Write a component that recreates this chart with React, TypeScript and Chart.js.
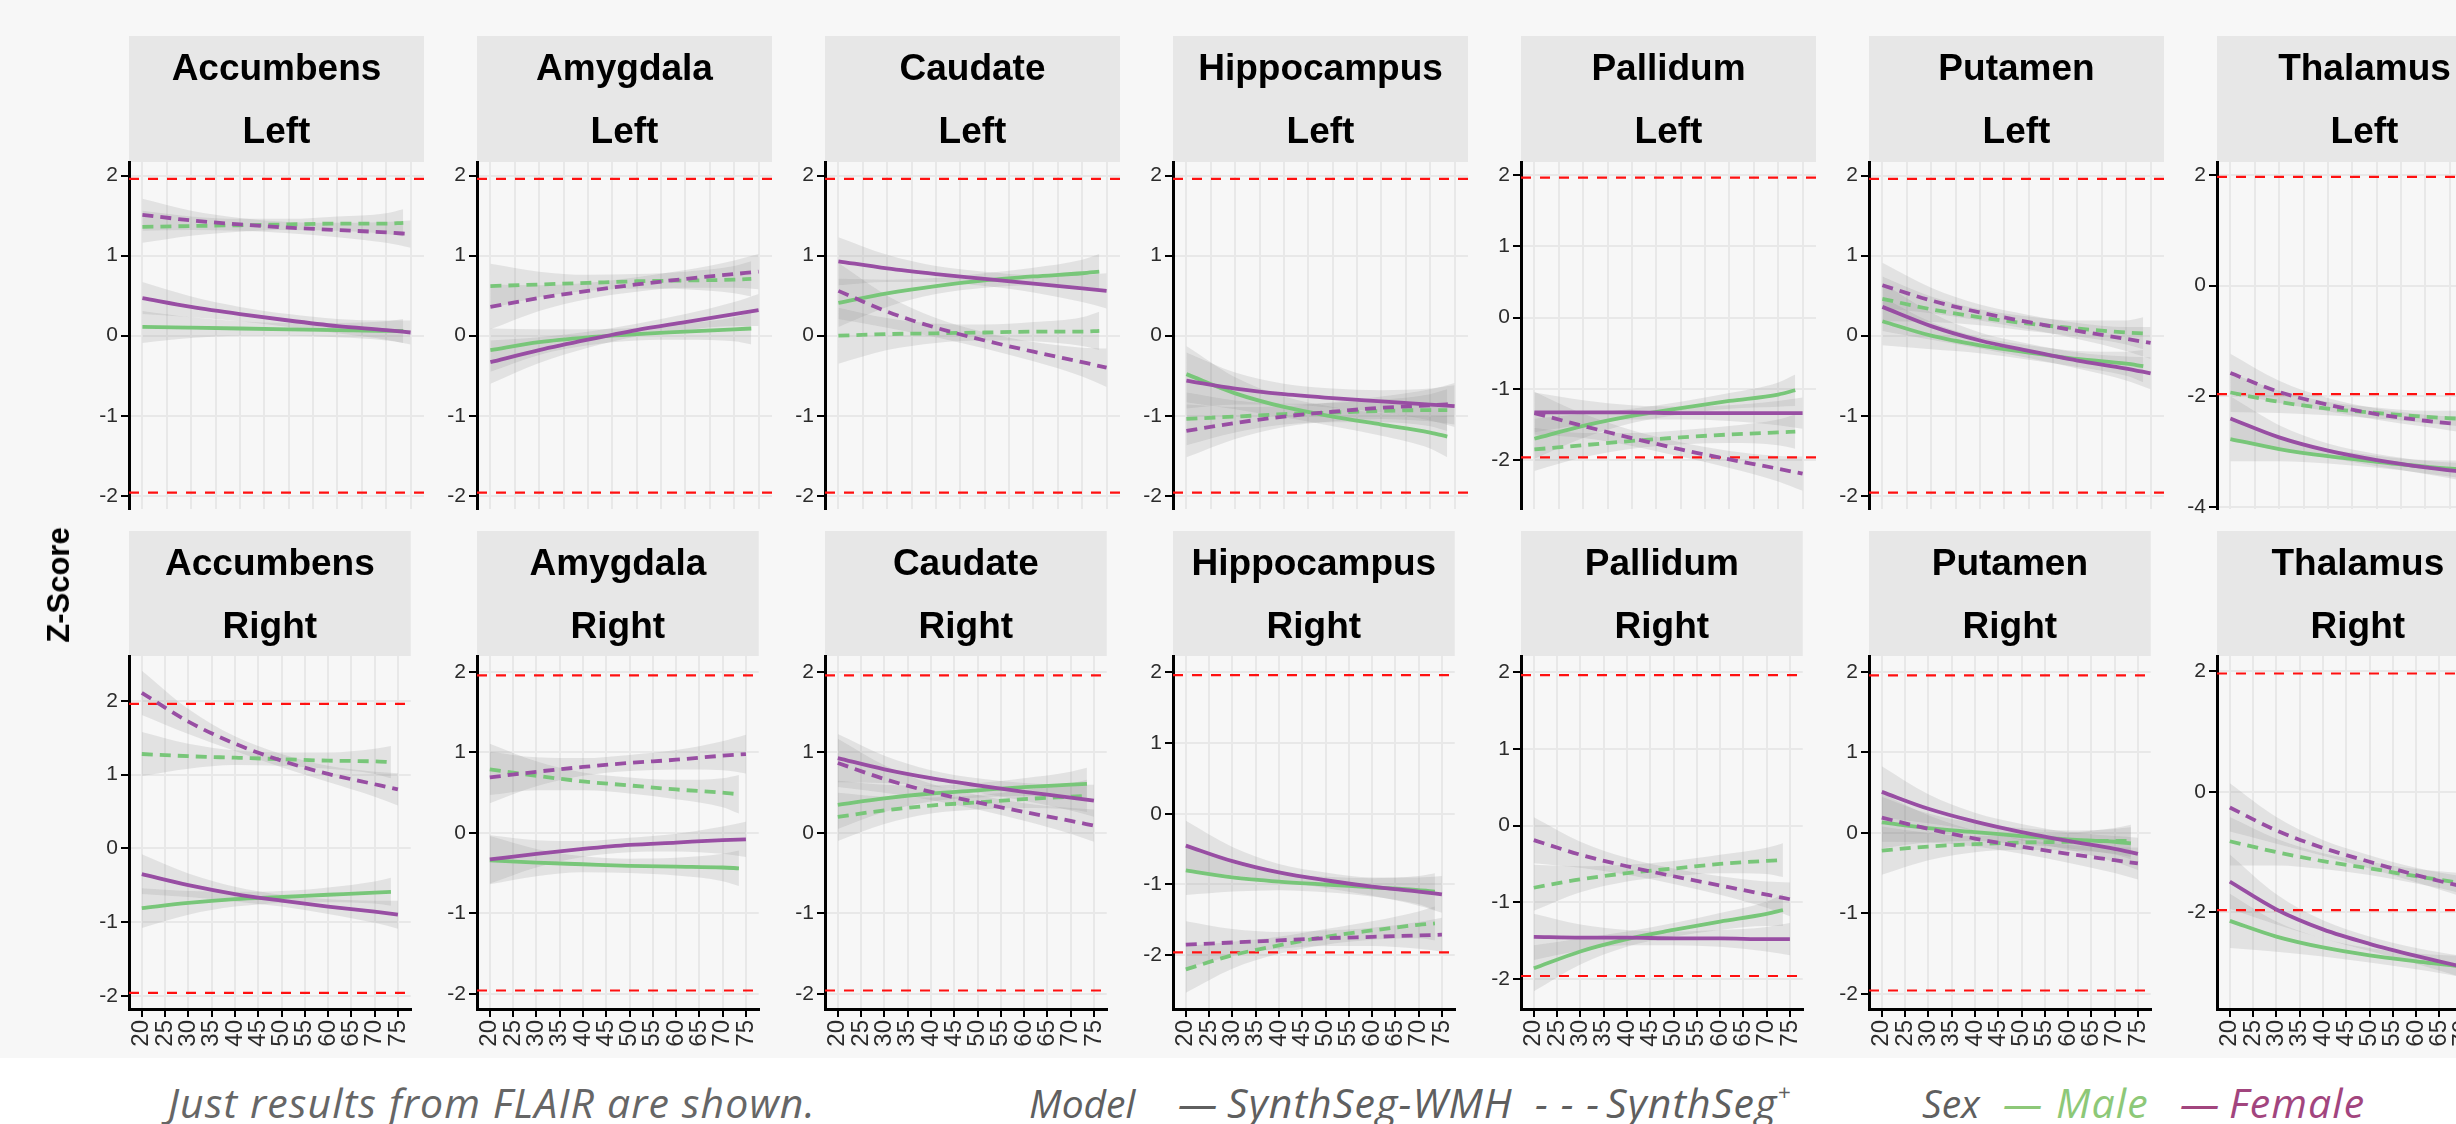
import React, { useEffect, useRef } from 'react';
import { Chart, registerables } from 'chart.js';

Chart.register(...registerables);

// ---------------- DATA ----------------
const REGIONS = ['Accumbens', 'Amygdala', 'Caudate', 'Hippocampus', 'Pallidum', 'Putamen', 'Thalamus'];
const SIDES = ['Left', 'Right'];
const AGE_TICKS = [20, 25, 30, 35, 40, 45, 50, 55, 60, 65, 70, 75];
const AGES_FEMALE = [20, 30, 40, 50, 60, 70, 75];
const AGES_MALE = [20, 30, 40, 50, 60, 70, 73.5];
const X_RANGE = [17.25, 77.75];
const REF_LINES = [-1.96, 1.96];

// panel order: Left row (0..6), Right row (7..13)
const WMH_FEMALE = [
  [0.47, 0.36, 0.27, 0.19, 0.12, 0.07, 0.04],
  [-0.33, -0.18, -0.05, 0.07, 0.17, 0.27, 0.32],
  [0.93, 0.84, 0.77, 0.71, 0.65, 0.59, 0.56],
  [-0.56, -0.66, -0.73, -0.78, -0.82, -0.86, -0.88],
  [-1.33, -1.33, -1.33, -1.34, -1.34, -1.34, -1.34],
  [0.36, 0.12, -0.06, -0.19, -0.31, -0.41, -0.47],
  [-2.4, -2.74, -2.98, -3.15, -3.28, -3.38, -3.42],
  [-0.35, -0.5, -0.62, -0.71, -0.79, -0.86, -0.9],
  [-0.33, -0.26, -0.2, -0.15, -0.12, -0.09, -0.08],
  [0.93, 0.79, 0.68, 0.59, 0.51, 0.44, 0.4],
  [-0.45, -0.67, -0.83, -0.94, -1.03, -1.1, -1.14],
  [-1.45, -1.46, -1.46, -1.47, -1.47, -1.48, -1.48],
  [0.51, 0.3, 0.14, 0.01, -0.1, -0.2, -0.26],
  [-1.49, -1.95, -2.28, -2.52, -2.72, -2.9, -2.98],
];
const WMH_MALE = [
  [0.11, 0.1, 0.09, 0.08, 0.07, 0.06, 0.06],
  [-0.18, -0.08, -0.02, 0.02, 0.05, 0.08, 0.09],
  [0.41, 0.53, 0.62, 0.69, 0.74, 0.78, 0.8],
  [-0.48, -0.72, -0.89, -1.01, -1.11, -1.21, -1.26],
  [-1.7, -1.52, -1.38, -1.27, -1.17, -1.08, -1.02],
  [0.18, 0.0, -0.12, -0.21, -0.29, -0.35, -0.38],
  [-2.77, -2.95, -3.08, -3.18, -3.27, -3.34, -3.37],
  [-0.81, -0.74, -0.69, -0.66, -0.63, -0.6, -0.59],
  [-0.34, -0.37, -0.39, -0.41, -0.42, -0.43, -0.44],
  [0.35, 0.43, 0.49, 0.53, 0.57, 0.6, 0.61],
  [-0.8, -0.9, -0.96, -1.0, -1.04, -1.08, -1.1],
  [-1.86, -1.64, -1.48, -1.36, -1.25, -1.15, -1.1],
  [0.13, 0.06, 0.01, -0.04, -0.08, -0.11, -0.13],
  [-2.14, -2.4, -2.58, -2.71, -2.81, -2.9, -2.95],
];
const SSP_FEMALE = [
  [1.51, 1.44, 1.39, 1.35, 1.32, 1.29, 1.27],
  [0.36, 0.47, 0.56, 0.64, 0.71, 0.77, 0.8],
  [0.56, 0.3, 0.1, -0.06, -0.2, -0.33, -0.4],
  [-1.19, -1.09, -1.01, -0.95, -0.9, -0.87, -0.85],
  [-1.34, -1.52, -1.69, -1.85, -1.99, -2.12, -2.19],
  [0.63, 0.44, 0.29, 0.17, 0.06, -0.04, -0.09],
  [-1.58, -1.92, -2.15, -2.32, -2.44, -2.53, -2.57],
  [2.11, 1.72, 1.42, 1.19, 1.01, 0.87, 0.8],
  [0.69, 0.76, 0.82, 0.87, 0.91, 0.96, 0.98],
  [0.87, 0.67, 0.51, 0.38, 0.26, 0.15, 0.09],
  [-1.85, -1.82, -1.79, -1.76, -1.74, -1.72, -1.71],
  [-0.19, -0.38, -0.53, -0.66, -0.78, -0.9, -0.96],
  [0.19, 0.05, -0.07, -0.17, -0.26, -0.34, -0.38],
  [-0.26, -0.64, -0.93, -1.16, -1.38, -1.57, -1.65],
];
const SSP_MALE = [
  [1.36, 1.37, 1.38, 1.39, 1.4, 1.4, 1.41],
  [0.62, 0.64, 0.66, 0.68, 0.69, 0.7, 0.71],
  [0.0, 0.02, 0.03, 0.04, 0.05, 0.05, 0.06],
  [-1.04, -1.01, -0.98, -0.96, -0.94, -0.93, -0.93],
  [-1.85, -1.79, -1.73, -1.68, -1.64, -1.61, -1.6],
  [0.46, 0.33, 0.23, 0.15, 0.09, 0.04, 0.03],
  [-1.93, -2.1, -2.22, -2.3, -2.37, -2.42, -2.45],
  [1.28, 1.25, 1.23, 1.21, 1.19, 1.18, 1.17],
  [0.79, 0.71, 0.64, 0.59, 0.54, 0.5, 0.48],
  [0.2, 0.28, 0.34, 0.38, 0.42, 0.45, 0.46],
  [-2.2, -2.0, -1.86, -1.74, -1.65, -1.57, -1.55],
  [-0.81, -0.7, -0.62, -0.56, -0.5, -0.46, -0.45],
  [-0.22, -0.17, -0.14, -0.12, -0.11, -0.1, -0.1],
  [-0.82, -1.0, -1.15, -1.27, -1.4, -1.52, -1.58],
];
// confidence band half-widths
const WMH_CI = [
  [0.2, 0.13, 0.09, 0.08, 0.09, 0.12, 0.15],
  [0.27, 0.16, 0.1, 0.08, 0.1, 0.15, 0.2],
  [0.3, 0.17, 0.1, 0.09, 0.11, 0.17, 0.22],
  [0.35, 0.2, 0.13, 0.12, 0.14, 0.2, 0.26],
  [0.28, 0.17, 0.1, 0.09, 0.11, 0.17, 0.22],
  [0.3, 0.17, 0.1, 0.09, 0.1, 0.15, 0.2],
  [0.4, 0.22, 0.13, 0.11, 0.12, 0.18, 0.24],
  [0.27, 0.16, 0.1, 0.08, 0.1, 0.15, 0.19],
  [0.3, 0.17, 0.1, 0.09, 0.11, 0.17, 0.22],
  [0.3, 0.17, 0.1, 0.09, 0.11, 0.16, 0.2],
  [0.35, 0.2, 0.12, 0.11, 0.13, 0.2, 0.26],
  [0.3, 0.17, 0.1, 0.09, 0.11, 0.16, 0.21],
  [0.32, 0.18, 0.11, 0.1, 0.11, 0.16, 0.2],
  [0.45, 0.25, 0.15, 0.12, 0.13, 0.18, 0.22],
];
const SSP_CI = [
  [0.2, 0.12, 0.08, 0.07, 0.09, 0.13, 0.17],
  [0.28, 0.16, 0.1, 0.09, 0.11, 0.17, 0.22],
  [0.35, 0.2, 0.12, 0.1, 0.12, 0.18, 0.24],
  [0.33, 0.2, 0.13, 0.12, 0.14, 0.2, 0.26],
  [0.3, 0.17, 0.11, 0.1, 0.12, 0.18, 0.24],
  [0.28, 0.16, 0.1, 0.09, 0.1, 0.15, 0.2],
  [0.35, 0.2, 0.12, 0.1, 0.11, 0.16, 0.22],
  [0.3, 0.17, 0.1, 0.09, 0.11, 0.17, 0.22],
  [0.32, 0.18, 0.11, 0.1, 0.12, 0.18, 0.24],
  [0.3, 0.17, 0.1, 0.09, 0.11, 0.16, 0.2],
  [0.33, 0.19, 0.12, 0.11, 0.13, 0.19, 0.24],
  [0.3, 0.17, 0.11, 0.1, 0.12, 0.17, 0.22],
  [0.3, 0.17, 0.1, 0.09, 0.11, 0.16, 0.2],
  [0.4, 0.22, 0.13, 0.11, 0.12, 0.17, 0.21],
];
const Y_RANGES = [
  [-2.17, 2.17], [-2.17, 2.17], [-2.17, 2.17], [-2.17, 2.17], [-2.69, 2.18], [-2.17, 2.17], [-4.04, 2.23],
  [-2.18, 2.61], [-2.19, 2.2], [-2.19, 2.2], [-2.76, 2.23], [-2.39, 2.21], [-2.19, 2.2], [-3.6, 2.25],
];
const TICKS_UNIT = [-2, -1, 0, 1, 2];
const TICKS_TWO_LEFT = [-4, -2, 0, 2];
const TICKS_TWO_RIGHT = [-2, 0, 2];
const Y_TICKS = [
  TICKS_UNIT, TICKS_UNIT, TICKS_UNIT, TICKS_UNIT, TICKS_UNIT, TICKS_UNIT, TICKS_TWO_LEFT,
  TICKS_UNIT, TICKS_UNIT, TICKS_UNIT, TICKS_UNIT, TICKS_UNIT, TICKS_UNIT, TICKS_TWO_RIGHT,
];

// ---------------- STYLE ----------------
const PURPLE = '#984ea3';
const GREEN = '#78c679';
const RED = '#ff1010';
const RIBBON = 'rgba(140,140,140,0.19)';
const GRID = '#e8e8e8';
const BG = '#f7f7f7';
const STRIP_BG = '#e7e7e7';
const TICK_COLOR = '#2b2b2b';
const FONT = '"Liberation Sans", Arial, Helvetica, sans-serif';
const DASH = [11, 7];

const AXIS_X0 = 129;
const COL_PITCH = 348;
const PANEL_W = 295;
const YAXIS_W = 60;
const PAD_R = 6;
const ROW_TOP = [36, 531];
const STRIP_H = [126, 125];
const PLOT_H = [351, 353];
const BOTTOM_EXTRA = [12, 70];
const FOOT_TOP = 1058;

const stripPlugin = {
  id: 'strip',
  beforeDraw(chart: any, _args: any, opts: any) {
    const { ctx, chartArea } = chart;
    ctx.save();
    ctx.fillStyle = STRIP_BG;
    ctx.fillRect(chartArea.left, 0, chartArea.right - chartArea.left, opts.height);
    ctx.fillStyle = '#000';
    ctx.font = `bold 37px ${FONT}`;
    ctx.textAlign = 'center';
    ctx.textBaseline = 'alphabetic';
    const cx = (chartArea.left + chartArea.right) / 2;
    ctx.fillText(opts.lines[0], cx, 44);
    ctx.fillText(opts.lines[1], cx, 107);
    ctx.restore();
  },
};

function Panel({ idx }: { idx: number }) {
  const ref = useRef<HTMLCanvasElement>(null);
  const row = idx < 7 ? 0 : 1;
  const col = idx % 7;
  const width = YAXIS_W + PANEL_W + PAD_R;
  const height = STRIP_H[row] + PLOT_H[row] + BOTTOM_EXTRA[row];

  useEffect(() => {
    if (!ref.current) return;
    const curves = [
      { vals: WMH_FEMALE[idx], ci: WMH_CI[idx], ages: AGES_FEMALE, color: PURPLE, dash: [] as number[] },
      { vals: SSP_FEMALE[idx], ci: SSP_CI[idx], ages: AGES_FEMALE, color: PURPLE, dash: DASH },
      { vals: WMH_MALE[idx], ci: WMH_CI[idx], ages: AGES_MALE, color: GREEN, dash: [] as number[] },
      { vals: SSP_MALE[idx], ci: SSP_CI[idx], ages: AGES_MALE, color: GREEN, dash: DASH },
    ];
    const datasets: any[] = [];
    curves.forEach((c) =>
      datasets.push({
        data: c.ages.map((a, i) => ({ x: a, y: c.vals[i] })),
        borderColor: c.color,
        borderWidth: 3.8,
        borderDash: c.dash,
        pointRadius: 0,
        fill: false,
        cubicInterpolationMode: 'monotone',
      })
    );
    REF_LINES.forEach((v) =>
      datasets.push({
        data: [{ x: X_RANGE[0], y: v }, { x: X_RANGE[1], y: v }],
        borderColor: RED,
        borderWidth: 2.2,
        borderDash: [10, 9],
        pointRadius: 0,
        fill: false,
      })
    );
    curves.forEach((c) => {
      const up = datasets.length;
      datasets.push({
        data: c.ages.map((a, i) => ({ x: a, y: c.vals[i] + c.ci[i] })),
        borderColor: 'rgba(0,0,0,0)',
        borderWidth: 1,
        pointRadius: 0,
        fill: false,
        cubicInterpolationMode: 'monotone',
      });
      datasets.push({
        data: c.ages.map((a, i) => ({ x: a, y: c.vals[i] - c.ci[i] })),
        borderColor: 'rgba(0,0,0,0)',
        borderWidth: 1,
        pointRadius: 0,
        fill: up,
        backgroundColor: RIBBON,
        cubicInterpolationMode: 'monotone',
      });
    });

    const chart = new Chart(ref.current, {
      type: 'line',
      data: { datasets },
      plugins: [stripPlugin as any],
      options: {
        animation: false,
        responsive: false,
        devicePixelRatio: 1,
        events: [],
        layout: { padding: { top: STRIP_H[row], left: 0, right: PAD_R, bottom: row === 0 ? BOTTOM_EXTRA[0] : 0 } },
        plugins: {
          legend: { display: false },
          title: { display: false },
          tooltip: { enabled: false },
          strip: { lines: [REGIONS[col], SIDES[row]], height: STRIP_H[row] },
        } as any,
        scales: {
          x: {
            type: 'linear',
            min: X_RANGE[0],
            max: X_RANGE[1],
            afterBuildTicks: (s: any) => {
              s.ticks = AGE_TICKS.map((v) => ({ value: v }));
            },
            afterFit: (s: any) => {
              s.height = row === 1 ? BOTTOM_EXTRA[1] : 0;
            },
            grid: {
              color: GRID,
              lineWidth: 2,
              drawTicks: row === 1,
              tickLength: 8,
              tickColor: '#000',
              tickWidth: 2,
            },
            border: { display: row === 1, color: '#000', width: 3 },
            ticks: {
              display: row === 1,
              autoSkip: false,
              minRotation: 90,
              maxRotation: 90,
              padding: 3,
              color: TICK_COLOR,
              font: { family: FONT, size: 24 },
            },
          },
          y: {
            type: 'linear',
            min: Y_RANGES[idx][0],
            max: Y_RANGES[idx][1],
            afterBuildTicks: (s: any) => {
              s.ticks = Y_TICKS[idx].map((v) => ({ value: v }));
            },
            afterFit: (s: any) => {
              s.width = YAXIS_W;
            },
            grid: { color: GRID, lineWidth: 2, tickLength: 8, tickColor: '#000', tickWidth: 2 },
            border: { color: '#000', width: 3 },
            ticks: {
              padding: 3,
              color: TICK_COLOR,
              font: { family: FONT, size: 21 },
              callback: (v: any) => String(v),
            },
          },
        },
      } as any,
    });
    return () => chart.destroy();
  }, [idx]);

  return (
    <canvas
      ref={ref}
      width={width}
      height={height}
      style={{
        position: 'absolute',
        left: AXIS_X0 + col * COL_PITCH - YAXIS_W,
        top: ROW_TOP[row],
        width,
        height,
      }}
    />
  );
}

const legendText: React.CSSProperties = {
  position: 'absolute',
  top: 1118 - 36 - FOOT_TOP,
  fontFamily: '"Open Sans", "Noto Sans", sans-serif',
  fontStyle: 'italic',
  fontSize: 41,
  letterSpacing: '1.1px',
  lineHeight: '41px',
  whiteSpace: 'nowrap',
  color: '#5f5f5f',
};

export default function App() {
  useEffect(() => {
    document.body.style.margin = '0';
  }, []);
  const panels = [];
  for (let i = 0; i < 14; i++) panels.push(<Panel key={i} idx={i} />);
  return (
    <div
      style={{
        position: 'fixed',
        left: 0,
        top: 0,
        width: 2456,
        height: 1124,
        overflow: 'hidden',
        background: BG,
      }}
    >
      {panels}
      <div
        style={{
          position: 'absolute',
          left: 59,
          top: 585,
          transform: 'translate(-50%, -50%) rotate(-90deg)',
          fontFamily: FONT,
          fontWeight: 'bold',
          fontSize: 31,
          whiteSpace: 'nowrap',
          color: '#000',
        }}
      >
        Z-Score
      </div>
      <div
        style={{
          position: 'absolute',
          left: 0,
          top: FOOT_TOP,
          width: 2456,
          height: 1124 - FOOT_TOP,
          background: '#ffffff',
          zIndex: 2,
          overflow: 'hidden',
        }}
      >
        <div style={{ ...legendText, left: 168, color: '#666' }}>Just results from FLAIR are shown.</div>
        <div style={{ ...legendText, left: 1029, letterSpacing: '0px', fontSize: 39 }}>Model</div>
        <div style={{ ...legendText, left: 1178 }}>—</div>
        <div style={{ ...legendText, left: 1227 }}>SynthSeg-WMH</div>
        <div style={{ ...legendText, left: 1535 }}>- - -</div>
        <div style={{ ...legendText, left: 1606 }}>
          SynthSeg<sup style={{ fontSize: '55%', verticalAlign: 'top', lineHeight: '20px' }}>+</sup>
        </div>
        <div style={{ ...legendText, left: 1922, letterSpacing: '0px', fontSize: 39 }}>Sex</div>
        <div style={{ ...legendText, left: 2003, color: '#8dc878' }}>—</div>
        <div style={{ ...legendText, left: 2056, color: '#8dc878' }}>Male</div>
        <div style={{ ...legendText, left: 2180, color: '#a2457e' }}>—</div>
        <div style={{ ...legendText, left: 2229, color: '#a2457e' }}>Female</div>
      </div>
    </div>
  );
}
